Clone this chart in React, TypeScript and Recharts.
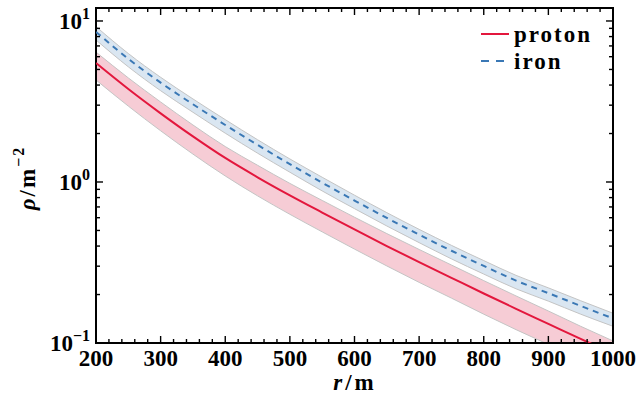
import React from "react";
import {
  ComposedChart,
  Area,
  Line,
  XAxis,
  YAxis,
  ReferenceArea,
  Legend,
} from "recharts";

// ---------- data ----------
const R = [200, 250, 300, 350, 400, 450, 500, 550, 600, 650, 700, 750, 800, 850, 900, 950, 1000];

const PROTON = [5.48, 3.78, 2.67, 1.92, 1.41, 1.07, 0.826, 0.646, 0.507, 0.4, 0.318, 0.254, 0.203, 0.163, 0.1315, 0.106, 0.0859];
const PROTON_HI = [6.41, 4.43, 3.14, 2.26, 1.66, 1.27, 0.98, 0.768, 0.604, 0.478, 0.381, 0.305, 0.244, 0.196, 0.158, 0.127, 0.103];
const PROTON_LO = [4.3, 2.96, 2.08, 1.49, 1.09, 0.82, 0.63, 0.49, 0.383, 0.301, 0.238, 0.19, 0.151, 0.121, 0.098, 0.079, 0.064];

const IRON = [8.55, 5.82, 4.14, 3.04, 2.26, 1.7, 1.29, 0.99, 0.767, 0.598, 0.471, 0.374, 0.301, 0.244, 0.204, 0.17, 0.142];
const IRON_HI = [9.23, 6.28, 4.47, 3.28, 2.44, 1.83, 1.39, 1.07, 0.828, 0.645, 0.508, 0.404, 0.325, 0.263, 0.22, 0.183, 0.153];
const IRON_LO = [7.62, 5.19, 3.69, 2.71, 2.01, 1.51, 1.15, 0.88, 0.683, 0.533, 0.42, 0.333, 0.268, 0.217, 0.182, 0.151, 0.127];

const X_MAJOR = [200, 300, 400, 500, 600, 700, 800, 900, 1000];
const X_TICKS = [
  200, 220, 240, 260, 280, 300, 320, 340, 360, 380, 400, 420, 440, 460, 480, 500,
  520, 540, 560, 580, 600, 620, 640, 660, 680, 700, 720, 740, 760, 780, 800, 820,
  840, 860, 880, 900, 920, 940, 960, 980, 1000,
];
const Y_MAJOR = [0.1, 1, 10];
const Y_TICKS = [0.1, 0.2, 0.3, 0.4, 0.5, 0.6, 0.7, 0.8, 0.9, 1, 2, 3, 4, 5, 6, 7, 8, 9, 10];
const Y_EXP: Record<string, string> = { "0.1": "\u22121", "1": "0", "10": "1" };
const X_DOMAIN = [200, 1000];
const Y_DOMAIN = [0.1, 12.04];

const SERIES_ORDER = ["proton", "iron"];

const data = R.map((r, i) => ({
  r,
  proton: PROTON[i],
  protonBand: [PROTON_LO[i], PROTON_HI[i]],
  iron: IRON[i],
  ironBand: [IRON_LO[i], IRON_HI[i]],
}));

// ---------- styling ----------
const FONT = '"Liberation Serif"';
const PLOT_W = 517;
const PLOT_H = 335;
const RED = "#e3173d";
const RED_BAND = "#f6ccd5";
const BLUE = "#3a78b5";
const BLUE_BAND = "#dae6f1";
const BAND_EDGE = "#c4c4c4";

const XTick = (props: any) => {
  const { x, y, payload } = props;
  const v = payload.value;
  const major = X_MAJOR.includes(v);
  const len = major ? 7 : 4;
  return (
    <g>
      <line x1={x} y1={y} x2={x} y2={y - len} stroke="#000" strokeWidth={1.4} />
      <line x1={x} y1={y - PLOT_H} x2={x} y2={y - PLOT_H + len} stroke="#000" strokeWidth={1.4} />
      {major && (
        <text x={x} y={y + 23} textAnchor="middle" style={{ fontFamily: FONT, fontWeight: "bold", fontSize: 23 }} fill="#000">
          {v}
        </text>
      )}
    </g>
  );
};

const YTick = (props: any) => {
  const { x, y, payload } = props;
  const v = payload.value;
  const major = Y_MAJOR.includes(v);
  const len = major ? 7 : 4;
  return (
    <g>
      <line x1={x} y1={y} x2={x + len} y2={y} stroke="#000" strokeWidth={1.4} />
      <line x1={x + PLOT_W} y1={y} x2={x + PLOT_W - len} y2={y} stroke="#000" strokeWidth={1.4} />
      {major && (
        <text x={x - 6} y={y + 8} textAnchor="end" style={{ fontFamily: FONT, fontWeight: "bold" }} fill="#000">
          <tspan style={{ fontSize: 23 }}>10</tspan>
          <tspan style={{ fontSize: 16 }} dy={-10}>{Y_EXP[String(v)]}</tspan>
        </text>
      )}
    </g>
  );
};

const XLabel = () => (
  <text x={355} y={390} textAnchor="middle" style={{ fontFamily: FONT, fontWeight: "bold", fontSize: 23, letterSpacing: 3 }} fill="#000">
    <tspan style={{ fontStyle: "italic" }}>r</tspan>
    <tspan>/m</tspan>
  </text>
);

const YLabel = () => (
  <text
    x={27}
    y={178}
    transform="rotate(-90, 27, 178)"
    textAnchor="middle"
    dominantBaseline="central"
    style={{ fontFamily: FONT, fontWeight: "bold", fontSize: 23, letterSpacing: 2 }}
    fill="#000"
  >
    <tspan style={{ fontStyle: "italic" }}>{"\u03C1"}</tspan>
    <tspan>/m</tspan>
    <tspan style={{ fontSize: 16 }} dy={-9}>{"\u22122"}</tspan>
  </text>
);

const renderLegend = (props: any) => {
  const items = (props.payload || [])
    .filter((p: any) => p.type !== "none")
    .sort((a: any, b: any) => SERIES_ORDER.indexOf(a.value) - SERIES_ORDER.indexOf(b.value));
  return (
    <div style={{ fontFamily: FONT, fontWeight: "bold", fontSize: 23 }}>
      {items.map((p: any) => (
        <div key={p.value} style={{ display: "flex", alignItems: "center", height: 27, lineHeight: "27px" }}>
          <svg width={28} height={27} style={{ display: "block" }}>
            <line
              x1={0}
              y1={13}
              x2={28}
              y2={13}
              stroke={p.color}
              strokeWidth={2}
              strokeDasharray={p.value === "iron" ? "8 7" : undefined}
            />
          </svg>
          <span style={{ marginLeft: 5, letterSpacing: 2 }}>{p.value}</span>
        </div>
      ))}
    </div>
  );
};

export default function App() {
  return (
    <>
      <style>{"body{margin:0}"}</style>
      <ComposedChart
        width={644}
        height={404}
        data={data}
        margin={{ top: 8, right: 31, bottom: 0, left: 0 }}
      >
        <XAxis
          dataKey="r"
          type="number"
          domain={X_DOMAIN}
          ticks={X_TICKS}
          interval={0}
          allowDataOverflow
          height={61}
          tickSize={0}
          tickMargin={0}
          axisLine={false}
          tickLine={false}
          tick={(p: any) => <XTick {...p} />}
          label={<XLabel />}
        />
        <YAxis
          type="number"
          scale="log"
          domain={Y_DOMAIN}
          ticks={Y_TICKS}
          interval={0}
          allowDataOverflow
          width={96}
          tickSize={0}
          tickMargin={0}
          axisLine={false}
          tickLine={false}
          tick={(p: any) => <YTick {...p} />}
          label={<YLabel />}
        />
        <Area
          dataKey="ironBand"
          type="monotone"
          fill={BLUE_BAND}
          fillOpacity={1}
          stroke={BAND_EDGE}
          strokeWidth={1}
          isAnimationActive={false}
          legendType="none"
          dot={false}
          activeDot={false}
        />
        <Area
          dataKey="protonBand"
          type="monotone"
          fill={RED_BAND}
          fillOpacity={1}
          stroke={BAND_EDGE}
          strokeWidth={1}
          isAnimationActive={false}
          legendType="none"
          dot={false}
          activeDot={false}
        />
        <Line
          dataKey="proton"
          name="proton"
          type="monotone"
          stroke={RED}
          strokeWidth={2}
          dot={false}
          isAnimationActive={false}
        />
        <Line
          dataKey="iron"
          name="iron"
          type="monotone"
          stroke={BLUE}
          strokeWidth={2}
          strokeDasharray="6 5"
          dot={false}
          isAnimationActive={false}
        />
        <ReferenceArea
          x1={X_DOMAIN[0]}
          x2={X_DOMAIN[1]}
          y1={Y_DOMAIN[0]}
          y2={Y_DOMAIN[1]}
          fill="none"
          stroke="#000"
          strokeWidth={2}
          ifOverflow="visible"
        />
        <Legend
          layout="vertical"
          align="center"
          verticalAlign="middle"
          content={renderLegend}
          wrapperStyle={{ top: 21, left: 481, width: 140, bottom: "auto", right: "auto" }}
        />
      </ComposedChart>
    </>
  );
}
